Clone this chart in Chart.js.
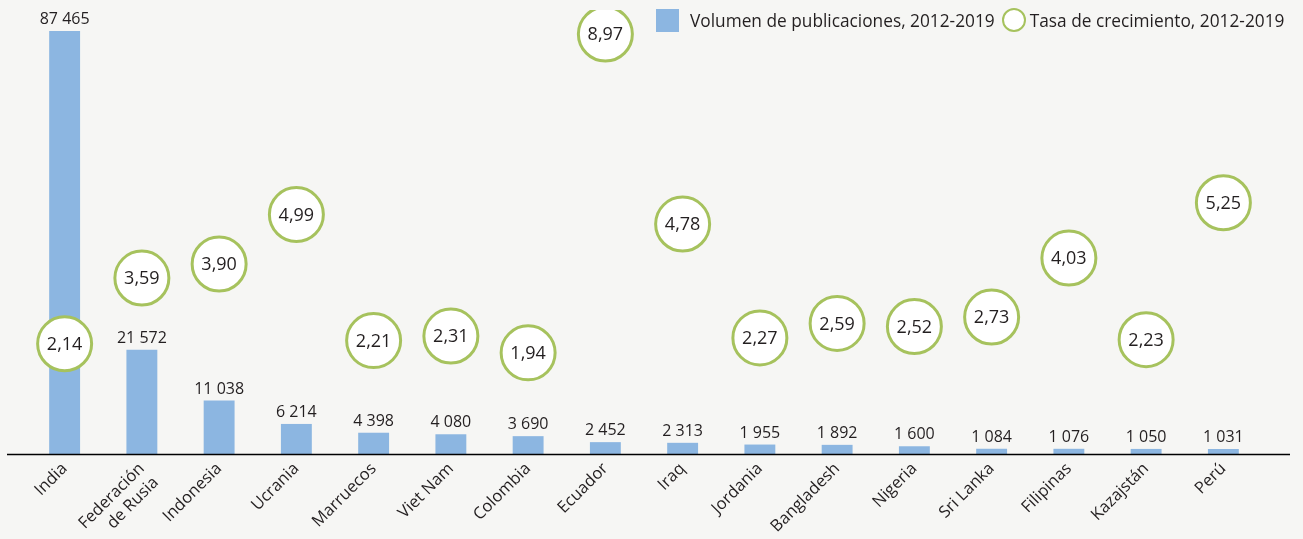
<!DOCTYPE html>
<html>
<head>
<meta charset="utf-8">
<script src="https://cdn.jsdelivr.net/npm/chart.js@4/dist/chart.umd.min.js"></script>
<style>
  html, body { margin: 0; padding: 0; background: #f6f6f4; }
  #wrap { position: relative; width: 1303px; height: 539px; }
  #legend { position: absolute; top: 8px; left: 656px; height: 24px; display: flex; align-items: center;
            font-family: "Open Sans", sans-serif; font-size: 17.3px; color: #231f20; white-space: nowrap; }
  .sq { width: 23px; height: 23px; background: #8cb6e1; margin-right: 11px; }
  .ci { width: 20px; height: 20px; border: 2px solid #a6c25d; border-radius: 50%; background: #fff; margin: 0 4px 0 7px; }
</style>
</head>
<body>
<div id="wrap">
  <canvas id="grafico" width="1303" height="539"></canvas>
  <div id="legend">
    <span class="sq"></span><span>Volumen de publicaciones, 2012-2019</span>
    <span class="ci"></span><span>Tasa de crecimiento, 2012-2019</span>
  </div>
</div>
<script>
// ===== DATOS =====
const paises = ['India', ['Federación', 'de Rusia'], 'Indonesia', 'Ucrania', 'Marruecos', 'Viet Nam',
    'Colombia', 'Ecuador', 'Iraq', 'Jordania', 'Bangladesh', 'Nigeria', 'Sri Lanka', 'Filipinas',
    'Kazajstán', 'Perú'];
const volumen = [87465, 21572, 11038, 6214, 4398, 4080, 3690, 2452, 2313, 1955, 1892, 1600, 1084, 1076, 1050, 1031];
const crecimiento = [2.14, 3.59, 3.90, 4.99, 2.21, 2.31, 1.94, 8.97, 4.78, 2.27, 2.59, 2.52, 2.73, 4.03, 2.23, 5.25];

const azul = '#8cb6e1';
const verde = '#a6c25d';
const texto = '#231f20';
const fuente = '"Open Sans", sans-serif';

const fmtMiles = v => String(v).replace(/\B(?=(\d{3})+(?!\d))/g, ' ');
const fmtDec = v => v.toFixed(2).replace('.', ',');

// etiquetas de valores + linea del eje
const etiquetas = {
    id: 'etiquetas',
    afterDatasetsDraw(chart) {
        const ctx = chart.ctx;
        const area = chart.chartArea;
        ctx.save();
        ctx.strokeStyle = '#000';
        ctx.lineWidth = 1.5;
        ctx.beginPath();
        ctx.moveTo(7, area.bottom + 0.5);
        ctx.lineTo(1290, area.bottom + 0.5);
        ctx.stroke();

        ctx.fillStyle = texto;
        ctx.textAlign = 'center';
        ctx.textBaseline = 'alphabetic';
        ctx.font = '16px ' + fuente;
        chart.getDatasetMeta(1).data.forEach((bar, i) => {
            ctx.fillText(fmtMiles(volumen[i]), bar.x, bar.y - 7);
        });
        ctx.font = '18px ' + fuente;
        ctx.textBaseline = 'middle';
        chart.getDatasetMeta(0).data.forEach((pt, i) => {
            ctx.fillText(fmtDec(crecimiento[i]), pt.x, pt.y + 1);
        });
        ctx.restore();
    }
};

new Chart(document.getElementById('grafico'), {
    data: {
        labels: paises,
        datasets: [{
            type: 'line',
            label: 'Tasa de crecimiento, 2012-2019',
            data: crecimiento,
            yAxisID: 'y2',
            showLine: false,
            pointRadius: 27,
            pointHoverRadius: 27,
            pointBackgroundColor: '#fff',
            pointBorderColor: verde,
            pointBorderWidth: 3,
            order: 0
        }, {
            type: 'bar',
            label: 'Volumen de publicaciones, 2012-2019',
            data: volumen,
            yAxisID: 'y',
            backgroundColor: azul,
            categoryPercentage: 1,
            barPercentage: 0.4,
            order: 1
        }]
    },
    options: {
        responsive: false,
        animation: false,
        layout: { autoPadding: false, padding: { left: 26, right: 41, top: 10, bottom: 0 } },
        plugins: {
            legend: { display: false },
            tooltip: { enabled: false }
        },
        scales: {
            x: {
                grid: { display: false, drawTicks: false },
                border: { display: false },
                ticks: {
                    color: texto,
                    font: { family: fuente, size: 16.5 },
                    maxRotation: 45,
                    minRotation: 45,
                    padding: 5,
                    autoSkip: false
                },
                afterFit: s => { s.height = 85; }
            },
            y: {
                display: false,
                min: 0,
                max: 91800
            },
            y2: {
                display: false,
                min: -0.29,
                max: 9.5
            }
        }
    },
    plugins: [etiquetas]
});
</script>
</body>
</html>
